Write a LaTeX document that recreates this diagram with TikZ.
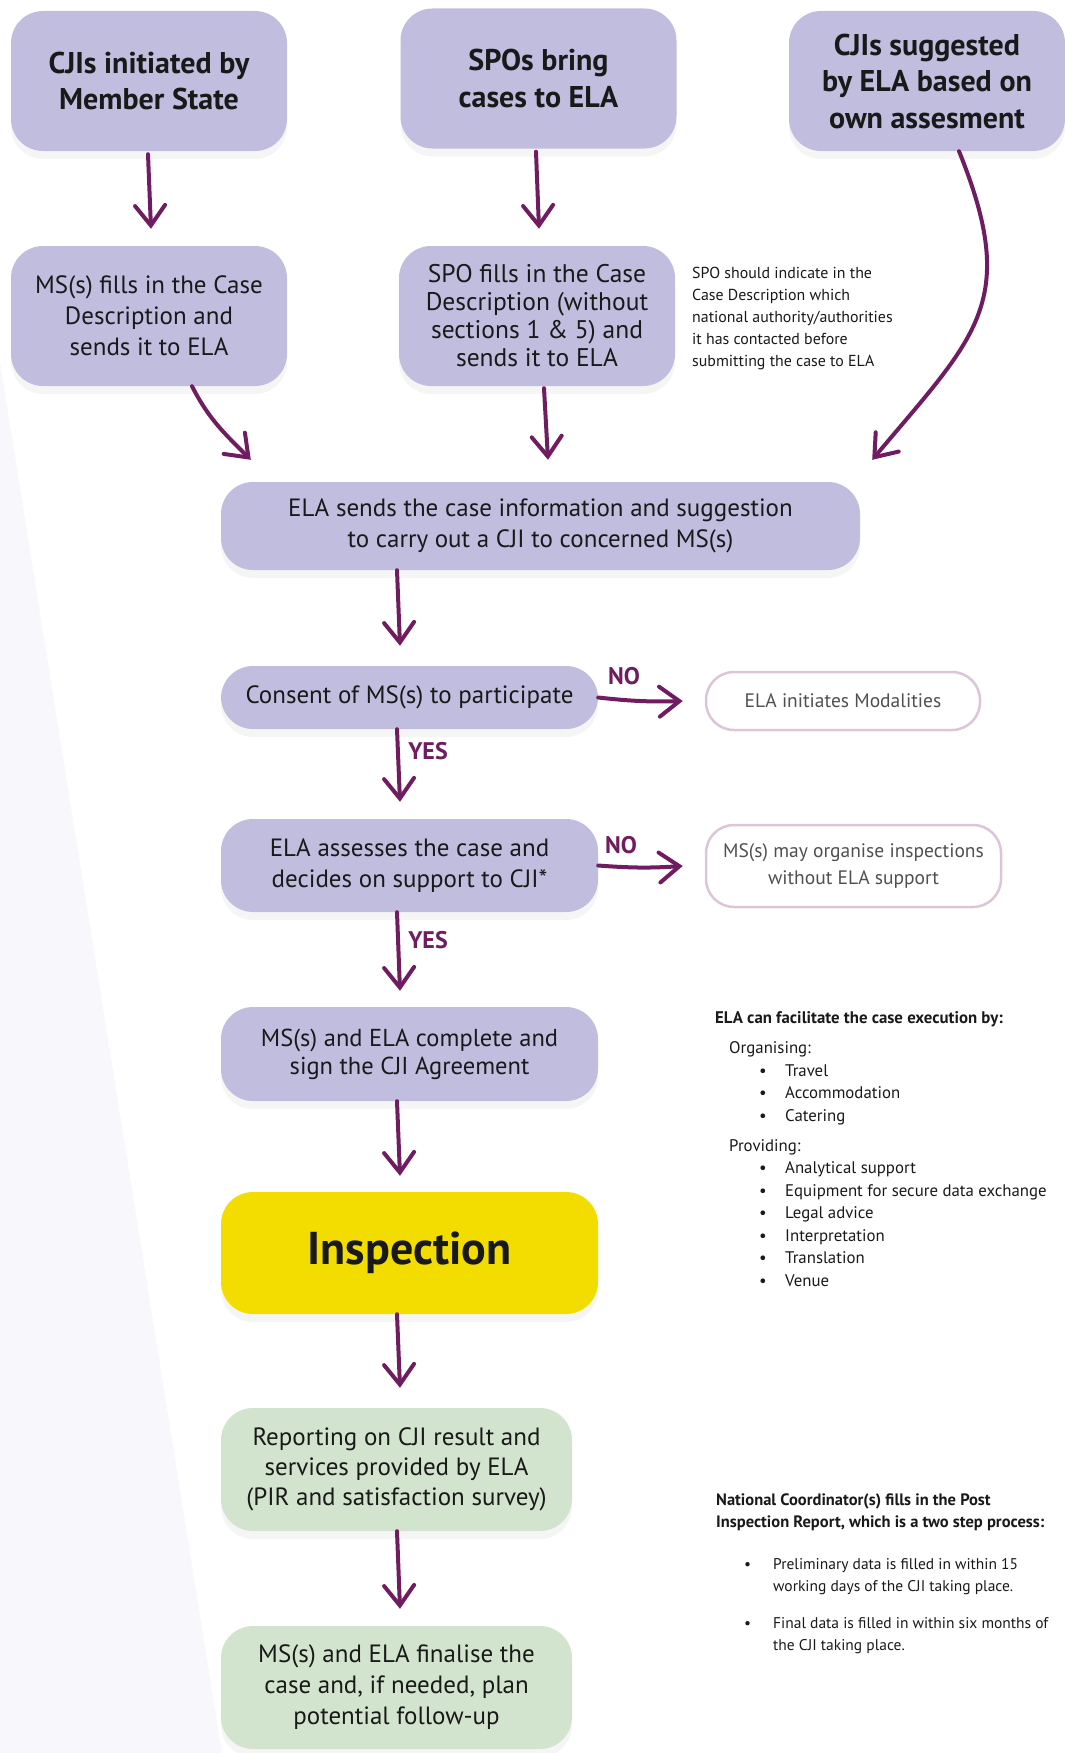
\documentclass[tikz,border=0pt]{standalone}
\usepackage{fontspec}
\setmainfont{PT Sans}
\usetikzlibrary{arrows.meta,shadows}

\definecolor{lavender}{RGB}{193,189,223}
\definecolor{sage}{RGB}{211,228,206}
\definecolor{lemon}{RGB}{243,221,0}
\definecolor{plum}{RGB}{111,29,96}
\definecolor{mauve}{RGB}{219,197,215}
\definecolor{ink}{RGB}{25,25,25}
\definecolor{softgray}{RGB}{80,80,80}
\definecolor{band}{RGB}{248,247,251}

\newcommand{\facitem}[1]{\hspace*{44pt}\makebox[26pt][l]{\textbullet}#1}
\newcommand{\pirstep}[1]{\hspace*{28pt}\makebox[29pt][l]{\textbullet}#1}

\tikzset{
  stepbox/.style={rounded corners=32pt, fill=lavender, text=ink, align=center, inner sep=0pt,
    font=\fontsize{25}{31}\selectfont,
    drop shadow={shadow xshift=0pt, shadow yshift=-8pt, opacity=0.08}},
  startbox/.style={stepbox, font=\bfseries\fontsize{30}{36.5}\selectfont,
    minimum width=276pt, minimum height=140pt},
  optbox/.style={rounded corners=28pt, draw=mauve, line width=2.5pt, fill=white,
    text=softgray, align=center, font=\fontsize{19.5}{27}\selectfont},
  answer/.style={text=plum, font=\bfseries\fontsize{24}{28}\selectfont, inner sep=0pt},
  sidetext/.style={text=ink, align=left, inner sep=0pt},
  flow/.style={draw=plum, line width=4pt, line cap=round,
    -{Straight Barb[length=20pt,width=30pt,line cap=round]}}
}

\begin{document}
\begin{tikzpicture}[x=1pt,y=1pt]
\useasboundingbox (0,0) rectangle (1065,-1753);
\fill[band] (0,-362) -- (222,-1753) -- (0,-1753) -- cycle;

% where a case comes from
\node[startbox] (msinit) at (149,-81) {CJIs initiated by\\Member State};
\node[startbox] (spobring) at (538.5,-78.5) {SPOs bring\\cases to ELA};
\node[startbox] (elasugg) at (927,-81) {CJIs suggested\\by ELA based on\\own assesment};

\node[stepbox, minimum width=276pt, minimum height=140pt] (msfill) at (149,-316)
  {MS(s) fills in the Case\\Description and\\sends it to ELA};
\node[stepbox, minimum width=276pt, minimum height=140pt, font=\fontsize{25.5}{28}\selectfont]
  (spofill) at (537,-316) {SPO fills in the Case\\Description (without\\sections 1 \& 5) and\\sends it to ELA};
\node[sidetext, anchor=west, font=\fontsize{15.9}{21.8}\selectfont] (spohint) at (692,-318.5)
  {SPO should indicate in the\\Case Description which\\national authority/authorities\\it has contacted before\\submitting the case to ELA};

% main column
\node[stepbox, minimum width=639pt, minimum height=88pt] (sendinfo) at (540.5,-526)
  {ELA sends the case information and suggestion\\to carry out a CJI to concerned MS(s)};
\node[stepbox, minimum width=377pt, minimum height=63pt] (consent) at (409.5,-697.5)
  {Consent of MS(s) to participate};
\node[optbox, minimum width=274pt, minimum height=58pt] (modal) at (843,-701)
  {ELA initiates Modalities};
\node[stepbox, minimum width=377pt, minimum height=93pt] (assess) at (409.5,-865.5)
  {ELA assesses the case and\\decides on support to CJI*};
\node[optbox, minimum width=295pt, minimum height=82pt] (noelasup) at (853.5,-866)
  {MS(s) may organise inspections\\without ELA support};
\node[stepbox, minimum width=377pt, minimum height=94pt, font=\fontsize{24.5}{28}\selectfont]
  (agree) at (409.5,-1054) {MS(s) and ELA complete and\\sign the CJI Agreement};
\node[stepbox, fill=lemon, minimum width=377pt, minimum height=122pt,
  font=\bfseries\fontsize{46}{52}\selectfont] (inspect) at (409.5,-1253) {Inspection};
\node[stepbox, fill=sage, minimum width=351pt, minimum height=123pt, font=\fontsize{25}{30}\selectfont]
  (report) at (396.5,-1469.5) {Reporting on CJI result and\\services provided by ELA\\(PIR and satisfaction survey)};
\node[stepbox, fill=sage, minimum width=351pt, minimum height=123pt] (finalise) at (396.5,-1687.5)
  {MS(s) and ELA finalise the\\case and, if needed, plan\\potential follow-up};

% side notes
\node[sidetext, anchor=west, font=\fontsize{16.8}{22.5}\selectfont] (facil) at (715,-1149)
  {\textbf{ELA can facilitate the case execution by:}\\[7.5pt]
   \hspace*{14pt}Organising:\\
   \facitem{Travel}\\
   \facitem{Accommodation}\\
   \facitem{Catering}\\[7.5pt]
   \hspace*{14pt}Providing:\\
   \facitem{Analytical support}\\
   \facitem{Equipment for secure data exchange}\\
   \facitem{Legal advice}\\
   \facitem{Interpretation}\\
   \facitem{Translation}\\
   \facitem{Venue}};
\node[sidetext, anchor=west, font=\fontsize{15.5}{22}\selectfont] (pirnote) at (716,-1573.5)
  {\textbf{\fontsize{16.5}{22}\selectfont National Coordinator(s) fills in the Post}\\
   \textbf{\fontsize{16.5}{22}\selectfont Inspection Report, which is a two step process:}\\[20pt]
   \pirstep{Preliminary data is filled in within 15}\\
   \hspace*{57pt}working days of the CJI taking place.\\[15pt]
   \pirstep{Final data is filled in within six months of}\\
   \hspace*{57pt}the CJI taking place.};

% arrows
\draw[flow] ([xshift=-1pt,yshift=-3pt]msinit.south) -- ([xshift=2pt,yshift=17pt]msfill.north);
\draw[flow] ([xshift=-2.5pt,yshift=-3pt]spobring.south) -- ([xshift=2pt,yshift=17pt]spofill.north);
\draw[flow] ([xshift=43pt]msfill.south) to[out=-63,in=135] ([xshift=30pt,yshift=22pt]sendinfo.north west);
\draw[flow] ([xshift=7pt,yshift=-2pt]spofill.south) -- ([xshift=7.5pt,yshift=22pt]sendinfo.north);
\draw[flow] ([xshift=32pt]elasugg.south) to[out=-68,in=50,looseness=1.3] ([xshift=12pt,yshift=22pt]sendinfo.north east);
\draw[flow] ([xshift=-143.5pt]sendinfo.south) -- ([xshift=-9.5pt,yshift=20pt]consent.north);
\draw[flow] (consent.east) to[bend right=4] ([xshift=-22pt]modal.west);
\draw[flow] ([xshift=-12.5pt]consent.south) -- ([xshift=-9.5pt,yshift=17pt]assess.north);
\draw[flow] (assess.east) to[bend right=4] ([xshift=-22pt]noelasup.west);
\draw[flow] ([xshift=-12.5pt]assess.south) -- ([xshift=-9.5pt,yshift=16pt]agree.north);
\draw[flow] ([xshift=-12.5pt]agree.south) -- ([xshift=-9.5pt,yshift=16pt]inspect.north);
\draw[flow] ([xshift=-12.5pt]inspect.south) -- ([xshift=3.5pt,yshift=20pt]report.north);
\draw[flow] ([xshift=0.5pt]report.south) -- ([xshift=3.5pt,yshift=17pt]finalise.north);

\node[answer] (no1) at (624,-676) {NO};
\node[answer] (yes1) at (428,-751) {YES};
\node[answer] (no2) at (621,-845) {NO};
\node[answer] (yes2) at (428,-940) {YES};
\end{tikzpicture}
\end{document}
